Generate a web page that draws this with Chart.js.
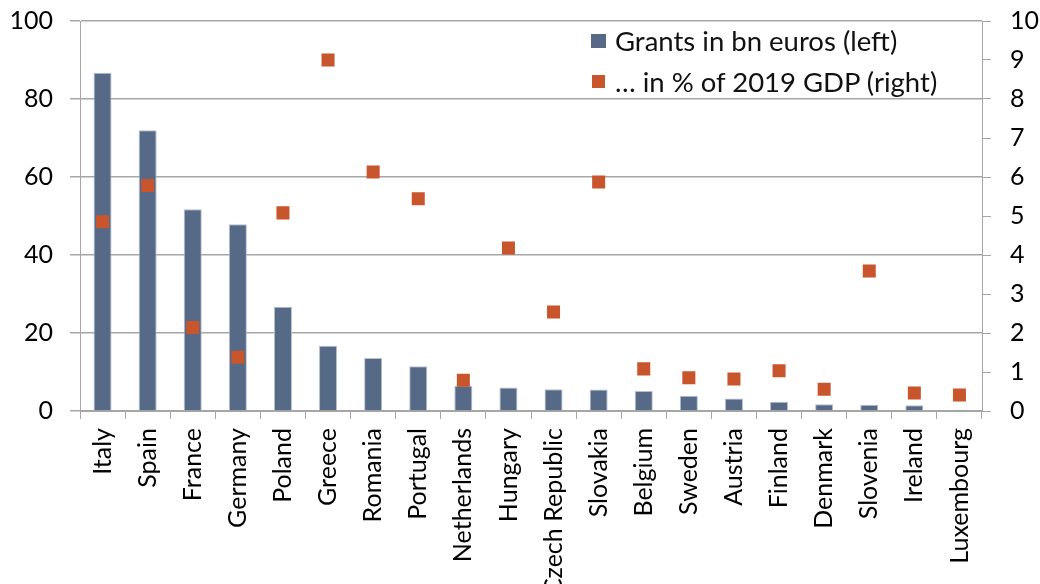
<!DOCTYPE html>
<html>
<head>
<meta charset="utf-8">
<script src="https://cdn.jsdelivr.net/npm/chart.js@4"></script>
<style>
  body { margin: 0; background: #fff; }
  #wrap { position: relative; width: 1040px; height: 584px; overflow: hidden; }
  #legend { position: absolute; left: 591px; top: 20px; font-family: Lato, sans-serif; font-size: 27.5px; color: #111; }
  #legend div { height: 41px; display: flex; align-items: center; }
  #legend span.sw { display: inline-block; margin-right: 9px; }
</style>
</head>
<body>
<div id="wrap">
  <canvas id="chart" width="1040" height="584"></canvas>
  <div id="legend"></div>
</div>
<script>
// EU recovery fund grants by country
const countries = ['Italy', 'Spain', 'France', 'Germany', 'Poland', 'Greece', 'Romania', 'Portugal',
  'Netherlands', 'Hungary', 'Czech Republic', 'Slovakia', 'Belgium', 'Sweden', 'Austria', 'Finland',
  'Denmark', 'Slovenia', 'Ireland', 'Luxembourg'];
const grantsBn = [86.7, 72.0, 51.7, 47.9, 26.7, 16.7, 13.6, 11.5, 6.5, 6.0, 5.6, 5.5, 5.1, 3.9, 3.2, 2.4, 1.7, 1.6, 1.5, 0.1];
const grantsPctGdp = [4.85, 5.78, 2.14, 1.38, 5.08, 9.0, 6.13, 5.44, 0.79, 4.18, 2.54, 5.87, 1.08, 0.85, 0.82, 1.03, 0.56, 3.59, 0.46, 0.41];
const leftTicks = [0, 20, 40, 60, 80, 100];
const rightTicks = [0, 1, 2, 3, 4, 5, 6, 7, 8, 9, 10];

const barColor = '#566987';
const dotColor = '#c8552b';
const gridColor = '#a6a6a6';
const font = { family: 'Lato, sans-serif', size: 25 };

// drop the extra room Chart.js keeps for half-labels, so the plot box is fixed
function noPad(s) {
  s.paddingTop = 0; s.paddingBottom = 0; s.paddingLeft = 0; s.paddingRight = 0;
}

new Chart(document.getElementById('chart'), {
  type: 'bar',
  data: {
    labels: countries,
    datasets: [
      {
        label: 'Grants in bn euros (left)',
        data: grantsBn,
        backgroundColor: barColor,
        borderColor: '#b4bfcf',
        borderWidth: 1,
        barPercentage: 0.4,
        categoryPercentage: 1,
        yAxisID: 'y',
        order: 2
      },
      {
        label: '\u2026 in % of 2019 GDP (right)',
        type: 'line',
        data: grantsPctGdp,
        showLine: false,
        pointStyle: 'rect',
        pointRadius: 9.2,
        pointHoverRadius: 9.2,
        pointBackgroundColor: dotColor,
        pointBorderWidth: 0,
        yAxisID: 'y1',
        order: 1
      }
    ]
  },
  options: {
    responsive: false,
    animation: false,
    layout: { padding: { top: 21, left: 0, right: 0, bottom: 0 } },
    plugins: { legend: { display: false }, tooltip: { enabled: false } },
    scales: {
      x: {
        grid: { offset: true, drawOnChartArea: false, color: gridColor, tickLength: 8 },
        border: { color: gridColor },
        ticks: { font: font, color: '#000', minRotation: 90, maxRotation: 90, padding: 9, autoSkip: false },
        afterFit: s => { s.height = 173; noPad(s); }
      },
      y: {
        position: 'left',
        min: 0, max: 100,
        afterBuildTicks: s => { s.ticks = leftTicks.map(v => ({ value: v })); },
        grid: { color: gridColor, tickLength: 10, lineWidth: 1.5 },
        border: { color: gridColor },
        ticks: { font: font, color: '#000', padding: 17 },
        afterFit: s => { s.width = 80; noPad(s); }
      },
      y1: {
        position: 'right',
        min: 0, max: 10,
        afterBuildTicks: s => { s.ticks = rightTicks.map(v => ({ value: v })); },
        grid: { drawOnChartArea: false, color: gridColor, tickLength: 9 },
        border: { color: gridColor },
        ticks: { font: font, color: '#000', padding: 19 },
        afterFit: s => { s.width = 58; noPad(s); }
      }
    }
  }
});

// legend inside the plot area, top right
const legend = document.getElementById('legend');
legend.innerHTML =
  '<div><span class="sw" style="width:15px;height:14px;background:' + barColor + '"></span>Grants in bn euros (left)</div>' +
  '<div><span class="sw" style="width:13px;height:13px;margin-left:1px;margin-right:10px;background:' + dotColor + '"></span>\u2026 in % of 2019 GDP (right)</div>';
</script>
</body>
</html>
